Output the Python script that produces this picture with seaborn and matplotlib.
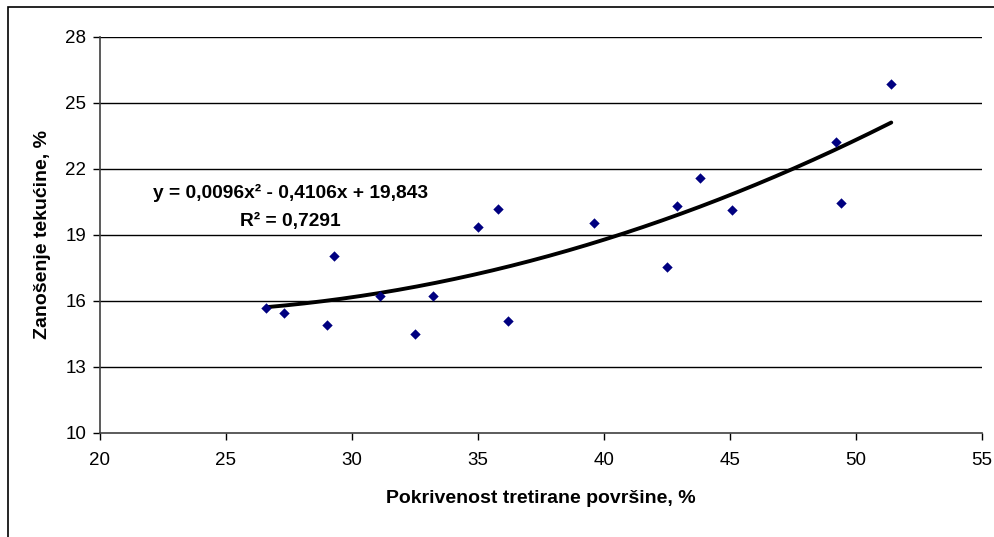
import numpy as np
import pandas as pd
import seaborn as sns
import matplotlib.pyplot as plt
from matplotlib.patches import Rectangle

# Data
pokrivenost = [26.6, 27.3, 29.0, 29.3, 31.1, 32.5, 33.2, 35.0, 35.8, 36.2,
               39.6, 42.5, 42.9, 43.8, 45.1, 49.2, 49.4, 51.4]
zanosenje = [15.67, 15.43, 14.91, 18.06, 16.2, 14.5, 16.2, 19.35, 20.17, 15.08,
             19.53, 17.55, 20.29, 21.58, 20.12, 23.21, 20.45, 25.85]

# Polynomial trend line (from the chart equation)
koef = [0.0096, -0.4106, 19.843]
r2 = 0.7291

x_ticks = [20, 25, 30, 35, 40, 45, 50, 55]
y_ticks = [10, 13, 16, 19, 22, 25, 28]

df = pd.DataFrame({'x': pokrivenost, 'y': zanosenje})
xt = np.linspace(min(pokrivenost), max(pokrivenost), 200)
trend = pd.DataFrame({'x': xt, 'y': np.polyval(koef, xt)})

sns.set_style("white")
plt.rcParams['font.family'] = ['Liberation Sans', 'DejaVu Sans']
plt.rcParams['text.color'] = 'black'
plt.rcParams['axes.labelcolor'] = 'black'
plt.rcParams['xtick.color'] = 'black'
plt.rcParams['ytick.color'] = 'black'

fig = plt.figure(figsize=(9.94, 5.37), dpi=100)
ax = fig.add_axes([0.1006, 0.1937, 0.8873, 0.738])

# outer frame of the chart area
fig.patches.append(Rectangle((8 / 994, -0.05), 1.2, 1 - 7 / 537 + 0.05,
                             transform=fig.transFigure, fill=False,
                             edgecolor='black', linewidth=1.2, zorder=0))

for yv in y_ticks[1:]:
    ax.axhline(yv, color='black', linewidth=1.0, zorder=1)

sns.lineplot(data=trend, x='x', y='y', ax=ax, color='black', linewidth=2.8, zorder=2)
sns.scatterplot(data=df, x='x', y='y', ax=ax, marker='D', s=28, color='#000080',
                edgecolor='#000080', linewidth=0, zorder=3)

ax.set_xlim(20, 55)
ax.set_ylim(10, 28)
ax.set_xticks(x_ticks)
ax.set_yticks(y_ticks)
ax.tick_params(axis='both', labelsize=13.5, length=5, width=1,
               direction='out', pad=4, left=True, bottom=True)
ax.tick_params(axis='x', pad=9)
ax.tick_params(axis='y', pad=5)

for s in ['top', 'right']:
    ax.spines[s].set_visible(False)
for s in ['left', 'bottom']:
    ax.spines[s].set_color('#404040')
    ax.spines[s].set_linewidth(1.2)

ax.set_xlabel('Pokrivenost tretirane površine, %', fontsize=14, fontweight='bold', labelpad=15)
ax.set_ylabel('Zanošenje tekućine, %', fontsize=14, fontweight='bold', labelpad=10)

ax.text(27.55, 20.9, 'y = 0,0096x² - 0,4106x + 19,843', fontsize=13.8,
        fontweight='bold', ha='center', va='center')
ax.text(27.55, 19.6, 'R² = ' + str(r2).replace('.', ','), fontsize=13.8,
        fontweight='bold', ha='center', va='center')

fig.savefig('out.png', dpi=100)
